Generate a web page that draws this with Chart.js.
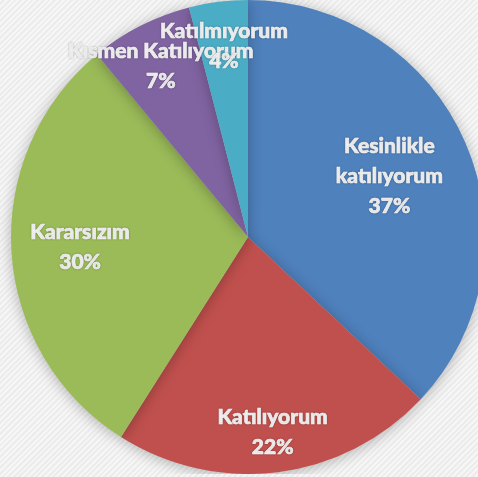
<!DOCTYPE html>
<html>
<head>
<meta charset="utf-8">
<script src="https://cdn.jsdelivr.net/npm/chart.js@4"></script>
<style>
  html, body {
    margin: 0;
    padding: 0;
    width: 478px;
    height: 477px;
    overflow: hidden;
    background-color: #f1f1f1;
    background-image: repeating-linear-gradient(135deg, #f6f6f6 0px, #f6f6f6 2px, #ececec 2px, #ececec 4px);
  }
  #wrap {
    position: absolute;
    left: 0;
    top: 0;
    width: 496px;
    height: 474px;
  }
</style>
</head>
<body>
<div id="wrap"><canvas id="pieChart" width="496" height="474"></canvas></div>
<script>
const categories = ["Kesinlikle katılıyorum", "Katılıyorum", "Kararsızım", "Kısmen Katılıyorum", "Katılmıyorum"];
const labelLines = [["Kesinlikle", "katılıyorum"], ["Katılıyorum"], ["Kararsızım"], ["Kısmen Katılıyorum"], ["Katılmıyorum"]];
const values = [37, 22, 30, 7, 4];
const colors = ["#4f81bd", "#c0504d", "#9bbb59", "#8064a2", "#4bacc6"];

// how far out from the centre each label sits (fraction of radius)
const labelRadius = [0.65, 0.83, 0.71, 0.81, 0.81];

const shadowPlugin = {
    id: "pieShadow",
    beforeDatasetsDraw(chart) {
        const ctx = chart.ctx;
        ctx.save();
        ctx.shadowColor = "rgba(0,0,0,0.28)";
        ctx.shadowBlur = 14;
        ctx.shadowOffsetX = 0;
        ctx.shadowOffsetY = 2;
    },
    afterDatasetsDraw(chart) {
        chart.ctx.restore();
    }
};

const labelPlugin = {
    id: "sliceLabels",
    afterDraw(chart) {
        const ctx = chart.ctx;
        const meta = chart.getDatasetMeta(0);
        const total = values.reduce((a, b) => a + b, 0);
        ctx.save();
        ctx.font = "900 21px Lato";
        ctx.textAlign = "center";
        ctx.textBaseline = "middle";
        ctx.fillStyle = "#f7f7f7";
        ctx.strokeStyle = "#f7f7f7";
        ctx.lineWidth = 0.6;
        ctx.shadowColor = "rgba(0,0,0,0.3)";
        ctx.shadowBlur = 2;
        meta.data.forEach((arc, i) => {
            const p = arc.getProps(["x", "y", "startAngle", "endAngle", "outerRadius"], true);
            const mid = (p.startAngle + p.endAngle) / 2;
            const r = p.outerRadius * labelRadius[i];
            const cx = p.x + Math.cos(mid) * r;
            const cy = p.y + Math.sin(mid) * r;
            const lines = labelLines[i].concat([Math.round(values[i] / total * 100) + "%"]);
            const lh = 30;
            const top = cy - (lines.length - 1) * lh / 2;
            lines.forEach((t, j) => {
                ctx.fillText(t, cx, top + j * lh);
                ctx.strokeText(t, cx, top + j * lh);
            });
        });
        ctx.restore();
    }
};

new Chart(document.getElementById("pieChart"), {
    type: "pie",
    data: {
        labels: categories,
        datasets: [{
            data: values,
            backgroundColor: colors,
            borderWidth: 0
        }]
    },
    options: {
        responsive: false,
        animation: false,
        layout: { padding: 0 },
        plugins: {
            legend: { display: false },
            tooltip: { enabled: false }
        }
    },
    plugins: [shadowPlugin, labelPlugin]
});
</script>
</body>
</html>
